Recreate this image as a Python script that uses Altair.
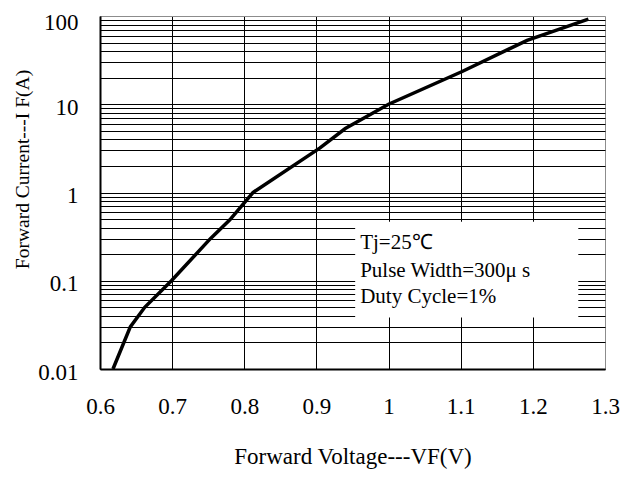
import altair as alt
import pandas as pd

# Curve data
vf = [0.618, 0.642, 0.662, 0.699, 0.753, 0.780, 0.812, 0.905, 0.940, 1.000, 1.102, 1.192, 1.277]
i_f = [0.01, 0.03, 0.05, 0.10, 0.30, 0.49, 1.0, 3.2, 5.3, 10.0, 23.5, 53.0, 92.0]

x_ticks = [0.6, 0.7, 0.8, 0.9, 1.0, 1.1, 1.2, 1.3]
y_decades = [0.01, 0.1, 1, 10, 100]
y_ticks = [0.01, 0.02, 0.03, 0.04, 0.05, 0.06, 0.07, 0.08, 0.09,
           0.1, 0.2, 0.3, 0.4, 0.5, 0.6, 0.7, 0.8, 0.9,
           1, 2, 3, 4, 5, 6, 7, 8, 9,
           10, 20, 30, 40, 50, 60, 70, 80, 90, 100]

note_lines = ["Tj=25\u2103", "Pulse Width=300\u03bc s", "Duty Cycle=1%"]
note_x = [0.9606, 0.9606, 0.9606]
note_y = [0.227, 0.110, 0.0563]
box_x = [0.9537, 1.263]
box_y = [0.0383, 0.467]

FONT = "Liberation Serif"

curve = pd.DataFrame({"vf": vf, "current": i_f})
notes = pd.DataFrame({"t": note_lines, "x": note_x, "y": note_y})
box = pd.DataFrame({"x1": [box_x[0]], "x2": [box_x[1]], "y1": [box_y[0]], "y2": [box_y[1]]})

xscale = alt.Scale(domain=[0.6, 1.3], nice=False, zero=False)
yscale = alt.Scale(type="log", domain=[0.01, 100], nice=False)

xaxis = alt.Axis(
    values=x_ticks, format="~g", grid=True,
    gridColor={"condition": {"test": "datum.value >= 1.29", "value": "#8c8c8c"}, "value": "black"},
    gridWidth=1, ticks=False, tickSize=0, labelPadding=37, labelBaseline="middle",
    labelFont=FONT, labelFontSize=23, labelColor="black", labelOverlap=False,
    labelFlush=False, labelBound=False,
    domainColor="black", domainWidth=2,
    title="Forward Voltage---VF(V)", titleFont=FONT, titleFontSize=23,
    titleFontWeight="normal", titleColor="black",
    titleX=252.5, titleY=87, titleBaseline="middle", titleAlign="center",
)
yaxis = alt.Axis(
    values=y_ticks, format="~g", grid=True,
    labelExpr="indexof([0.01, 0.1, 1, 10, 100], datum.value) >= 0 ? datum.label : ''",
    gridColor={"condition": {"test": "datum.value >= 99", "value": "#8c8c8c"}, "value": "black"},
    gridWidth=1, ticks=False, tickSize=0, labelPadding=22,
    labelOffset={"condition": {"test": "datum.value >= 99", "value": 6}, "value": 3},
    labelFont=FONT, labelFontSize=23, labelColor="black", labelOverlap=False,
    labelFlush=False, labelBound=False,
    labelBaseline="middle",
    domainColor="black", domainWidth=2,
    title="Forward Current---I F(A)", titleFont=FONT, titleFontSize=19.5,
    titleFontWeight="normal", titleColor="black",
    titleX=-78, titleY=153, titleBaseline="middle", titleAlign="center", titleAngle=-90,
)

line = alt.Chart(curve).mark_line(color="black", strokeWidth=3.5).encode(
    x=alt.X("vf:Q", scale=xscale, axis=xaxis),
    y=alt.Y("current:Q", scale=yscale, axis=yaxis),
)

rect = alt.Chart(box).mark_rect(fill="white").encode(
    x=alt.X("x1:Q", scale=xscale), x2="x2:Q",
    y=alt.Y("y1:Q", scale=yscale), y2="y2:Q",
)

text = alt.Chart(notes).mark_text(
    align="left", baseline="alphabetic", font=FONT, fontSize=21, color="black"
).encode(
    x=alt.X("x:Q", scale=xscale),
    y=alt.Y("y:Q", scale=yscale),
    text="t:N",
)

chart = alt.layer(line, rect, text).properties(
    width=505, height=353,
    autosize=alt.AutoSizeParams(type="none"),
    padding={"left": 92, "top": 8, "right": 16, "bottom": 103},
).configure_view(stroke="#8c8c8c", strokeWidth=2).configure(background="white")

chart.save("out.html", embed_options={"renderer": "svg", "actions": False})
